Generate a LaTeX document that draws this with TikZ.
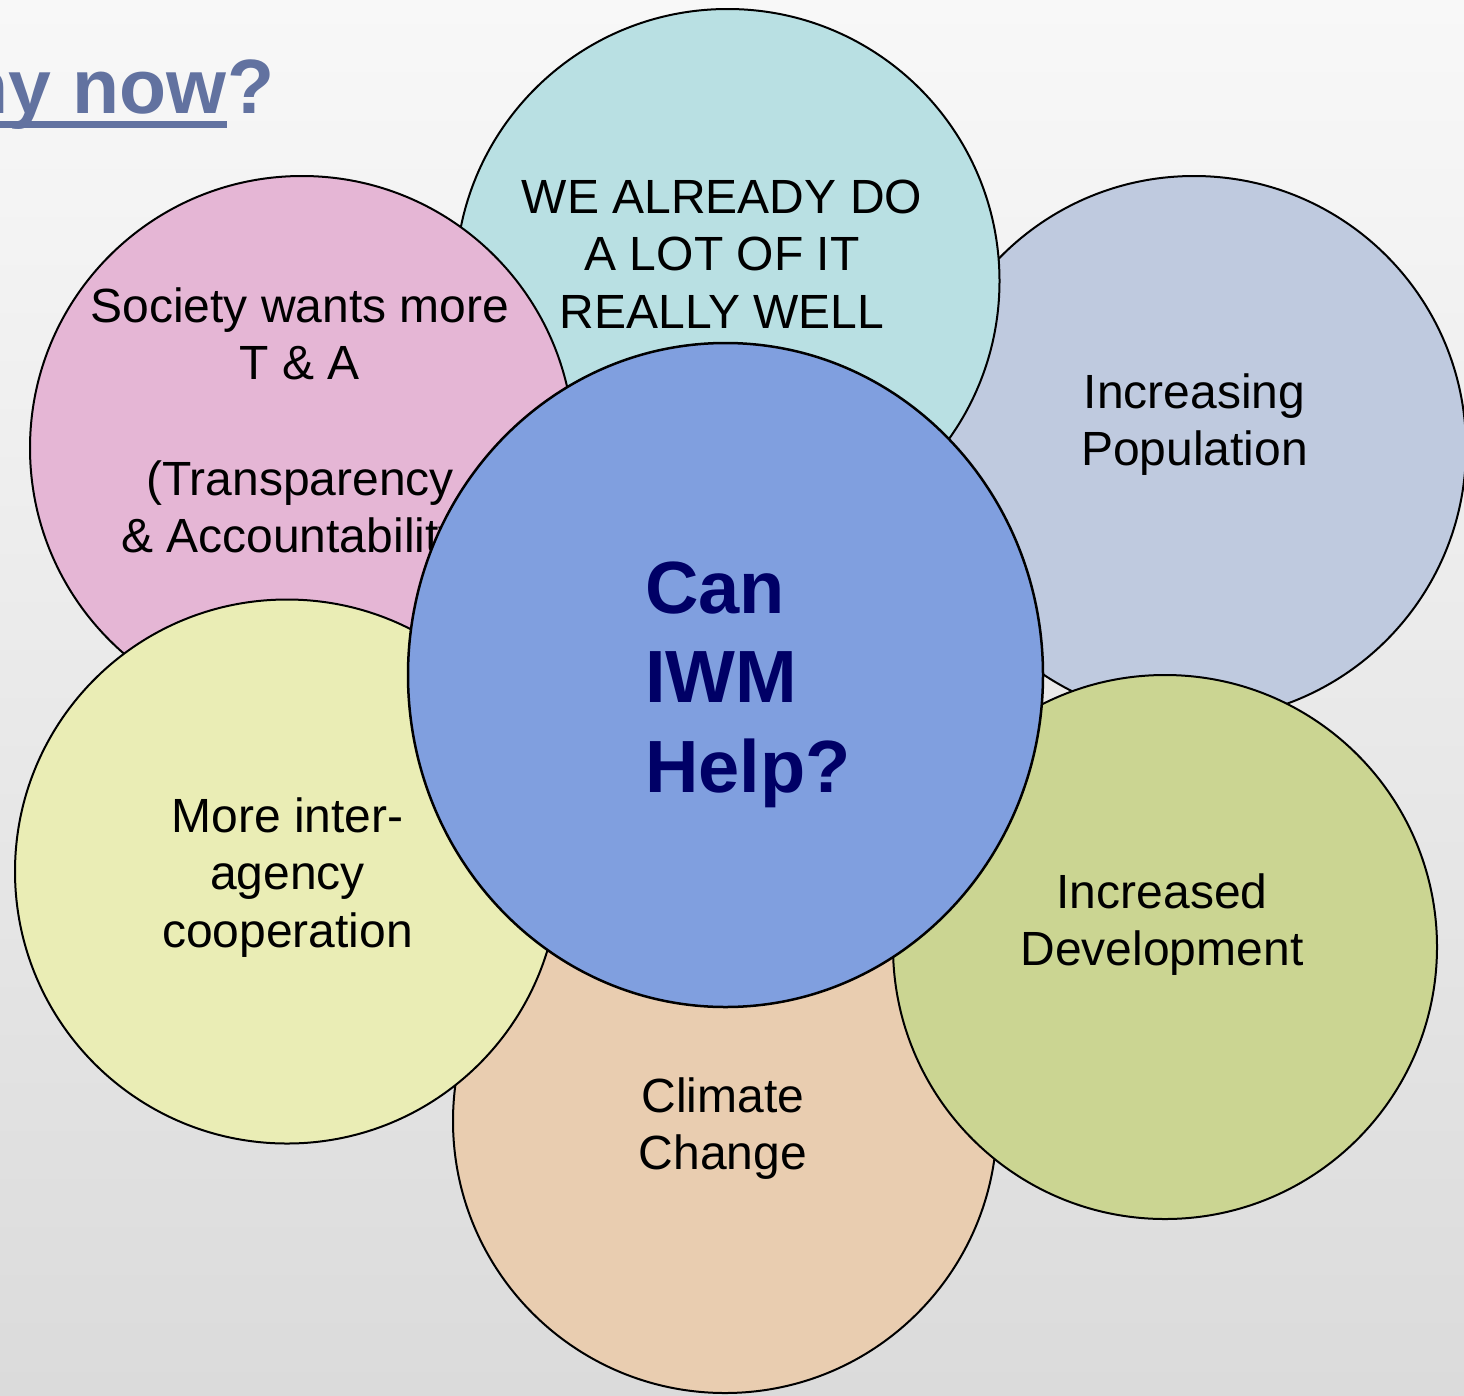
\documentclass[tikz,border=0pt]{standalone}
\usepackage{fontspec}
\setmainfont{Liberation Sans}
\usepackage{tikz}
\usetikzlibrary{shapes}
\definecolor{bgtop}{RGB}{248,248,248}
\definecolor{bgbot}{RGB}{219,219,219}
\definecolor{tealpale}{RGB}{185,224,227}
\definecolor{pinkpale}{RGB}{229,182,213}
\definecolor{slatepale}{RGB}{191,202,223}
\definecolor{lemonpale}{RGB}{234,237,181}
\definecolor{peachpale}{RGB}{233,205,176}
\definecolor{olivepale}{RGB}{203,213,146}
\definecolor{hubblue}{RGB}{128,159,223}
\definecolor{asknavy}{RGB}{0,0,102}
\definecolor{titleslate}{RGB}{98,114,160}
\tikzstyle{bubble} = [circle, draw, line width=2pt, minimum size=544pt, inner sep=0pt]
\tikzstyle{hub} = [ellipse, draw, line width=2.5pt, fill=hubblue, minimum width=635pt,
minimum height=664pt, inner sep=0pt]
\tikzstyle{caption} = [align=center, inner sep=0pt, anchor=north, font=\fontsize{48}{57.6}\selectfont]
\tikzstyle{question} = [align=left, inner sep=0pt, anchor=north west, text=asknavy,
font=\fontsize{74}{89.5}\selectfont\bfseries]
\tikzstyle{heading} = [inner sep=0pt, text=titleslate, font=\fontsize{77}{92}\selectfont\bfseries]
\begin{document}
\begin{tikzpicture}[x=1pt, y=-1pt]
			\path [use as bounding box, clip] (0,0) rectangle (1464,1395);
			\shade [top color=bgtop, bottom color=bgbot] (0,0) rectangle (1464,1395);
			\node [heading, anchor=base east] (why) at (227,113) {Why now};
			\node [heading, anchor=base west] (qmark) at (why.base east) {?};
			\draw [titleslate, line width=7pt] ([yshift=-11.5pt]why.base west) -- ([yshift=-11.5pt]why.base east);
			\node [bubble, fill=slatepale] (population) at (1194,448) {};
			\node [bubble, fill=tealpale] (already) at (727.5,281) {};
			\node [bubble, fill=pinkpale] (society) at (302,448) {};
			\node [bubble, fill=peachpale] (climate) at (725,1121) {};
			\node [bubble, fill=lemonpale] (agency) at (287,871.5) {};
			\node [bubble, fill=olivepale] (develop) at (1165,947) {};
			\node [caption] (alreadytext) at (722,172.7) {\strut WE ALREADY DO\\A LOT OF IT\\REALLY WELL};
			\node [caption] (societytext) at (300,281.7) {\strut Society wants more\\T \& A\\ \\(Transparency\\\& Accountability)};
			\node [caption] (populationtext) at (1194.5,367.7) {\strut Increasing\\Population};
			\node [caption] (agencytext) at (287.5,791.7) {\strut More inter-\\agency\\cooperation};
			\node [caption] (climatetext) at (723,1071.7) {\strut Climate\\Change};
			\node [caption] (developtext) at (1162,867.7) {\strut Increased\\Development};
			\node [hub] (iwm) at (725.5,675) {};
			\node [question] (ask) at (645,550.35) {\strut Can\\IWM\\Help?};
		\end{tikzpicture}
\end{document}
